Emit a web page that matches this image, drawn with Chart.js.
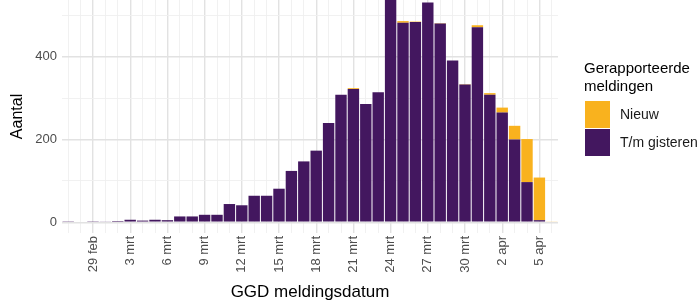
<!DOCTYPE html>
<html>
<head>
<meta charset="utf-8">
<script src="https://cdn.jsdelivr.net/npm/chart.js@4/dist/chart.umd.min.js"></script>
<style>
  body { margin: 0; background: #fff; font-family: "Liberation Sans", Arial, sans-serif; }
  #wrap { position: relative; width: 700px; height: 305px; }
  #legend { position: absolute; left: 584px; top: 59px; color: #000; white-space: nowrap; }
  #legend .title { font-size: 15px; line-height: 18px; }
  #legend .row { position: relative; height: 27px; margin-top: 1px; }
  #legend .key { position: absolute; left: 1px; top: 0; width: 25px; height: 27px; }
  #legend .lbl { position: absolute; left: 36px; top: 5px; font-size: 14px; color: #1a1a1a; }
</style>
</head>
<body>
<div id="wrap">
  <canvas id="chart"></canvas>
  <div id="legend">
    <div class="title">Gerapporteerde<br>meldingen</div>
    <div style="height:5px"></div>
    <div class="row"><div class="key" style="background:#f9b21e"></div><div class="lbl">Nieuw</div></div>
    <div class="row"><div class="key" style="background:#43175f"></div><div class="lbl">T/m gisteren</div></div>
  </div>
</div>
<script>
// dagen (GGD meldingsdatum)
const days = [
  '27 feb', '28 feb', '29 feb', '1 mrt', '2 mrt', '3 mrt', '4 mrt', '5 mrt', '6 mrt', '7 mrt',
  '8 mrt', '9 mrt', '10 mrt', '11 mrt', '12 mrt', '13 mrt', '14 mrt', '15 mrt', '16 mrt', '17 mrt',
  '18 mrt', '19 mrt', '20 mrt', '21 mrt', '22 mrt', '23 mrt', '24 mrt', '25 mrt', '26 mrt', '27 mrt',
  '28 mrt', '29 mrt', '30 mrt', '31 mrt', '1 apr', '2 apr', '3 apr', '4 apr', '5 apr', '6 apr'
];
const tickLabels = ['29 feb', '3 mrt', '6 mrt', '9 mrt', '12 mrt', '15 mrt', '18 mrt',
  '21 mrt', '24 mrt', '27 mrt', '30 mrt', '2 apr', '5 apr'];

// T/m gisteren
const tmGisteren = [
  1, 0, 1, 2, 3, 6, 4, 6, 5, 14,
  14, 18, 18, 44, 41, 64, 64, 81, 124, 147,
  173, 240, 308, 322, 286, 314, 560, 482, 484, 531,
  480, 391, 333, 471, 308, 265, 200, 97, 5, 0
];
// Nieuw
const nieuw = [
  0, 0, 0, 0, 0, 0, 0, 0, 0, 0,
  0, 0, 0, 0, 0, 0, 0, 0, 0, 0,
  0, 0, 0, 2, 0, 0, 0, 4, 1, 0,
  1, 0, 1, 5, 4, 12, 33, 104, 103, 2
];

const yTicks = [0, 200, 400];
const yGrid = [0, 100, 200, 300, 400, 500];

const fontFam = '"Liberation Sans", Arial, sans-serif';

new Chart(document.getElementById('chart'), {
  type: 'bar',
  data: {
    labels: days,
    datasets: [
      { label: 'T/m gisteren', data: tmGisteren, backgroundColor: '#43175f', stack: 's' },
      { label: 'Nieuw', data: nieuw, backgroundColor: '#f9b21e', stack: 's' }
    ]
  },
  options: {
    responsive: true,
    maintainAspectRatio: false,
    animation: false,
    layout: { autoPadding: false, padding: { left: 0, right: 142, top: 0, bottom: 0 } },
    plugins: { legend: { display: false }, tooltip: { enabled: false } },
    datasets: { bar: { categoryPercentage: 0.92, barPercentage: 1, borderWidth: 0 } },
    scales: {
      x: {
        stacked: true,
        offset: true,
        afterFit: (s) => {
          s.height = 72;
          s.paddingLeft = 0; s.paddingRight = 0; s.paddingTop = 0; s.paddingBottom = 0;
        },
        border: { display: false },
        grid: {
          offset: false,
          drawTicks: false,
          color: (ctx) => tickLabels.includes(days[ctx.index]) ? '#e2e2e2' : '#efefef',
          lineWidth: (ctx) => tickLabels.includes(days[ctx.index]) ? 1.4 : 0.9
        },
        ticks: {
          autoSkip: false,
          minRotation: 90,
          maxRotation: 90,
          padding: 3,
          color: '#4d4d4d',
          font: { family: fontFam, size: 13 },
          callback: (v, i) => tickLabels.includes(days[i]) ? days[i] : ''
        },
        title: {
          display: true,
          text: 'GGD meldingsdatum',
          color: '#000',
          font: { family: fontFam, size: 17 },
          padding: { top: 0, bottom: 2 }
        }
      },
      y: {
        stacked: true,
        min: -26,
        max: 537,
        afterFit: (s) => {
          s.width = 62;
          s.paddingLeft = 0; s.paddingRight = 0; s.paddingTop = 0; s.paddingBottom = 0;
        },
        afterBuildTicks: (s) => { s.ticks = yGrid.map(v => ({ value: v })); },
        border: { display: false },
        grid: {
          drawTicks: false,
          color: (ctx) => yTicks.includes(ctx.tick.value) ? '#e2e2e2' : '#efefef',
          lineWidth: (ctx) => yTicks.includes(ctx.tick.value) ? 1.4 : 0.9
        },
        ticks: {
          padding: 5,
          color: '#4d4d4d',
          font: { family: fontFam, size: 13 },
          callback: (v) => yTicks.includes(v) ? String(v) : ''
        },
        title: {
          display: true,
          text: 'Aantal',
          color: '#000',
          font: { family: fontFam, size: 16 },
          padding: { top: 8, bottom: 0 }
        }
      }
    }
  }
});
</script>
</body>
</html>
